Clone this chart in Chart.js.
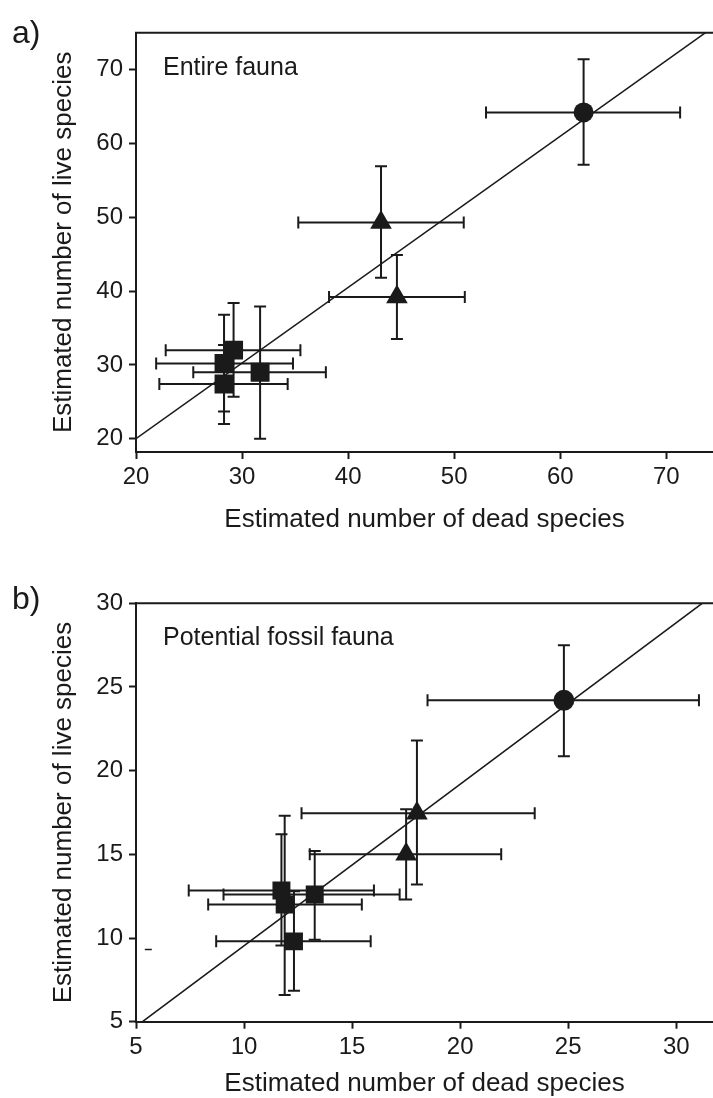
<!DOCTYPE html>
<html>
<head>
<meta charset="utf-8">
<script src="https://cdn.jsdelivr.net/npm/chart.js@4.4.1/dist/chart.umd.min.js"></script>
<style>
    body{margin:0;background:#fff;width:713px;height:1098px;position:relative;overflow:hidden;
         font-family:"Liberation Sans",Arial,sans-serif;color:#1a1a1a}
    canvas{position:absolute;left:0}
    #chartA{top:0}
    #chartB{top:549px}
    .lbl{position:absolute;line-height:1;white-space:nowrap}
</style>
</head>
<body>
<canvas id="chartA" width="713" height="549"></canvas>
<canvas id="chartB" width="713" height="549"></canvas>
<div class="lbl" style="left:12px;top:16px;font-size:32px">a)</div>
<div class="lbl" style="left:12px;top:582px;font-size:32px">b)</div>
<div class="lbl" id="noteA" style="left:163px;top:54px;font-size:25px"></div>
<div class="lbl" id="noteB" style="left:163px;top:624px;font-size:25px"></div>
<script>
// ---- panel a: entire fauna ----
const aGroup   = ['G1', 'G2', 'G2', 'G3', 'G3', 'G3', 'G3'];
const aDead    = [62.2, 43.1, 44.6, 29.2, 28.3, 31.7, 28.3];
const aDeadLo  = [53.0, 35.3, 38.2, 22.8, 21.9, 25.4, 22.2];
const aDeadHi  = [71.3, 50.9, 51.0, 35.5, 34.8, 37.9, 34.3];
const aLive    = [64.2, 49.3, 39.2, 32.0, 30.2, 29.0, 27.4];
const aLiveLo  = [57.1, 41.8, 33.5, 25.7, 23.7, 20.0, 22.0];
const aLiveHi  = [71.4, 56.9, 44.9, 38.4, 36.8, 37.9, 32.7];
const aLineX   = [20, 73.7];
const aLineY   = [20, 75];
const aXTicks  = [20, 30, 40, 50, 60, 70];
const aYTicks  = [20, 30, 40, 50, 60, 70];

// ---- panel b: potential fossil fauna ----
const bGroup   = ['G1', 'G2', 'G2', 'G3', 'G3', 'G3', 'G3'];
const bDead    = [24.8, 18.0, 17.5, 11.73, 13.27, 11.88, 12.31];
const bDeadLo  = [18.49, 12.66, 13.04, 7.44, 9.05, 8.34, 8.71];
const bDeadHi  = [31.05, 23.45, 21.9, 16.01, 17.2, 15.45, 15.86];
const bLive    = [24.2, 17.46, 15.0, 12.84, 12.6, 12.0, 9.8];
const bLiveLo  = [20.86, 13.2, 12.3, 9.56, 9.9, 6.6, 6.85];
const bLiveHi  = [27.5, 21.8, 17.7, 16.2, 15.2, 17.3, 12.8];
const bLineX   = [5.3, 31.2];
const bLineY   = [5, 30];
const bStrayX  = [5.57];
const bStrayY  = [9.32];
const bXTicks  = [5, 10, 15, 20, 25, 30];
const bYTicks  = [5, 10, 15, 20, 25, 30];

const xTitle = 'Estimated number of dead species';
const yTitle = 'Estimated number of live species';
document.getElementById('noteA').textContent = 'Entire fauna';
document.getElementById('noteB').textContent = 'Potential fossil fauna';

const INK = '#1a1a1a';
const FONT = '"Liberation Sans", Arial, sans-serif';
const SHAPE = {G1: 'circle', G2: 'triangle', G3: 'rect'};

const topLine = {
    id: 'topLine',
    afterDraw(chart){
        const {ctx, chartArea} = chart;
        ctx.save();
        ctx.strokeStyle = INK;
        ctx.lineWidth = 2;
        ctx.beginPath();
        ctx.moveTo(chartArea.left - 1, chartArea.top);
        ctx.lineTo(chartArea.right, chartArea.top);
        ctx.stroke();
        ctx.restore();
    }
};

function errorSets(xs, xlo, xhi, ys, ylo, yhi){
    const sets = [];
    const base = {
        type: 'line', showLine: true, borderColor: INK, borderWidth: 2,
        pointStyle: 'line', pointRadius: 6, pointBorderWidth: 2,
        pointBorderColor: INK, pointBackgroundColor: INK
    };
    for(let i = 0; i < xs.length; i++){
        sets.push({...base, pointRotation: 90,
            data: [{x: xlo[i], y: ys[i]}, {x: xhi[i], y: ys[i]}]});
        sets.push({...base, pointRotation: 0,
            data: [{x: xs[i], y: ylo[i]}, {x: xs[i], y: yhi[i]}]});
    }
    return sets;
}

function axis(min, max, ticks, size, isX, title){
    return {
        type: 'linear',
        position: isX ? 'bottom' : 'left',
        min: min,
        max: max,
        afterBuildTicks: s => { s.ticks = ticks.map(v => ({value: v})); },
        afterFit: s => {
            if(isX) s.height = size; else s.width = size;
            s.paddingLeft = 0; s.paddingRight = 0;
            s.paddingTop = 0; s.paddingBottom = 0;
        },
        grid: {display: true, drawOnChartArea: false, drawTicks: true,
               tickLength: 7, tickWidth: 2, tickColor: INK},
        border: {display: true, color: INK, width: 2},
        ticks: {font: {family: FONT, size: 24}, color: INK, padding: isX ? 4 : 6,
                maxRotation: 0, autoSkip: false},
        title: {display: true, text: isX ? xTitle : yTitle, color: INK,
                font: {family: FONT, size: 26, lineHeight: title.lh},
                padding: isX ? {top: 0, bottom: title.pad} : {top: title.pad, bottom: 0}}
    };
}

function makePanel(id, p){
    const markers = {
        type: 'scatter',
        data: p.dead.map((v, i) => ({x: v, y: p.live[i]})),
        pointStyle: c => SHAPE[p.group[c.dataIndex]],
        pointRadius: c => p.radius[SHAPE[p.group[c.dataIndex]]],
        pointBackgroundColor: INK,
        pointBorderWidth: 0
    };
    const diag = {
        type: 'line', showLine: true, borderColor: INK, borderWidth: 1.5, pointRadius: 0,
        data: p.lineX.map((v, i) => ({x: v, y: p.lineY[i]}))
    };
    const datasets = [markers];
    if(p.strayX){
        datasets.push({
            type: 'scatter', pointStyle: 'line', pointRadius: 3.5, pointBorderWidth: 1.5,
            pointBorderColor: INK,
            data: p.strayX.map((v, i) => ({x: v, y: p.strayY[i]}))
        });
    }
    datasets.push(diag);
    datasets.push(...errorSets(p.dead, p.deadLo, p.deadHi, p.live, p.liveLo, p.liveHi));

    new Chart(document.getElementById(id), {
        type: 'scatter',
        data: {datasets: datasets},
        options: {
            responsive: false,
            animation: false,
            devicePixelRatio: 1,
            events: [],
            layout: {autoPadding: false, padding: {top: p.top, right: 0, bottom: 0, left: 0}},
            plugins: {legend: {display: false}, tooltip: {enabled: false}},
            scales: {
                x: axis(p.xMin, p.xMax, p.xTicks, p.xAxisH, true, p.xTitle),
                y: axis(p.yMin, p.yMax, p.yTicks, 136, false, {pad: 48, lh: 1.2})
            }
        },
        plugins: [topLine]
    });
}

makePanel('chartA', {
    group: aGroup, dead: aDead, deadLo: aDeadLo, deadHi: aDeadHi,
    live: aLive, liveLo: aLiveLo, liveHi: aLiveHi,
    lineX: aLineX, lineY: aLineY, xTicks: aXTicks, yTicks: aYTicks,
    xMin: 20, xMax: 74.4, yMin: 18.2, yMax: 75,
    top: 32.7, xAxisH: 97, xTitle: {pad: 13.4, lh: 1.2},
    radius: {circle: 10, triangle: 12.5, rect: 13.4}
});

makePanel('chartB', {
    group: bGroup, dead: bDead, deadLo: bDeadLo, deadHi: bDeadHi,
    live: bLive, liveLo: bLiveLo, liveHi: bLiveHi,
    lineX: bLineX, lineY: bLineY, strayX: bStrayX, strayY: bStrayY,
    xTicks: bXTicks, yTicks: bYTicks,
    xMin: 5, xMax: 31.7, yMin: 5, yMax: 30,
    top: 54.3, xAxisH: 76.3, xTitle: {pad: 0, lh: 1.1},
    radius: {circle: 10.5, triangle: 12.5, rect: 12.7}
});
</script>
</body>
</html>
